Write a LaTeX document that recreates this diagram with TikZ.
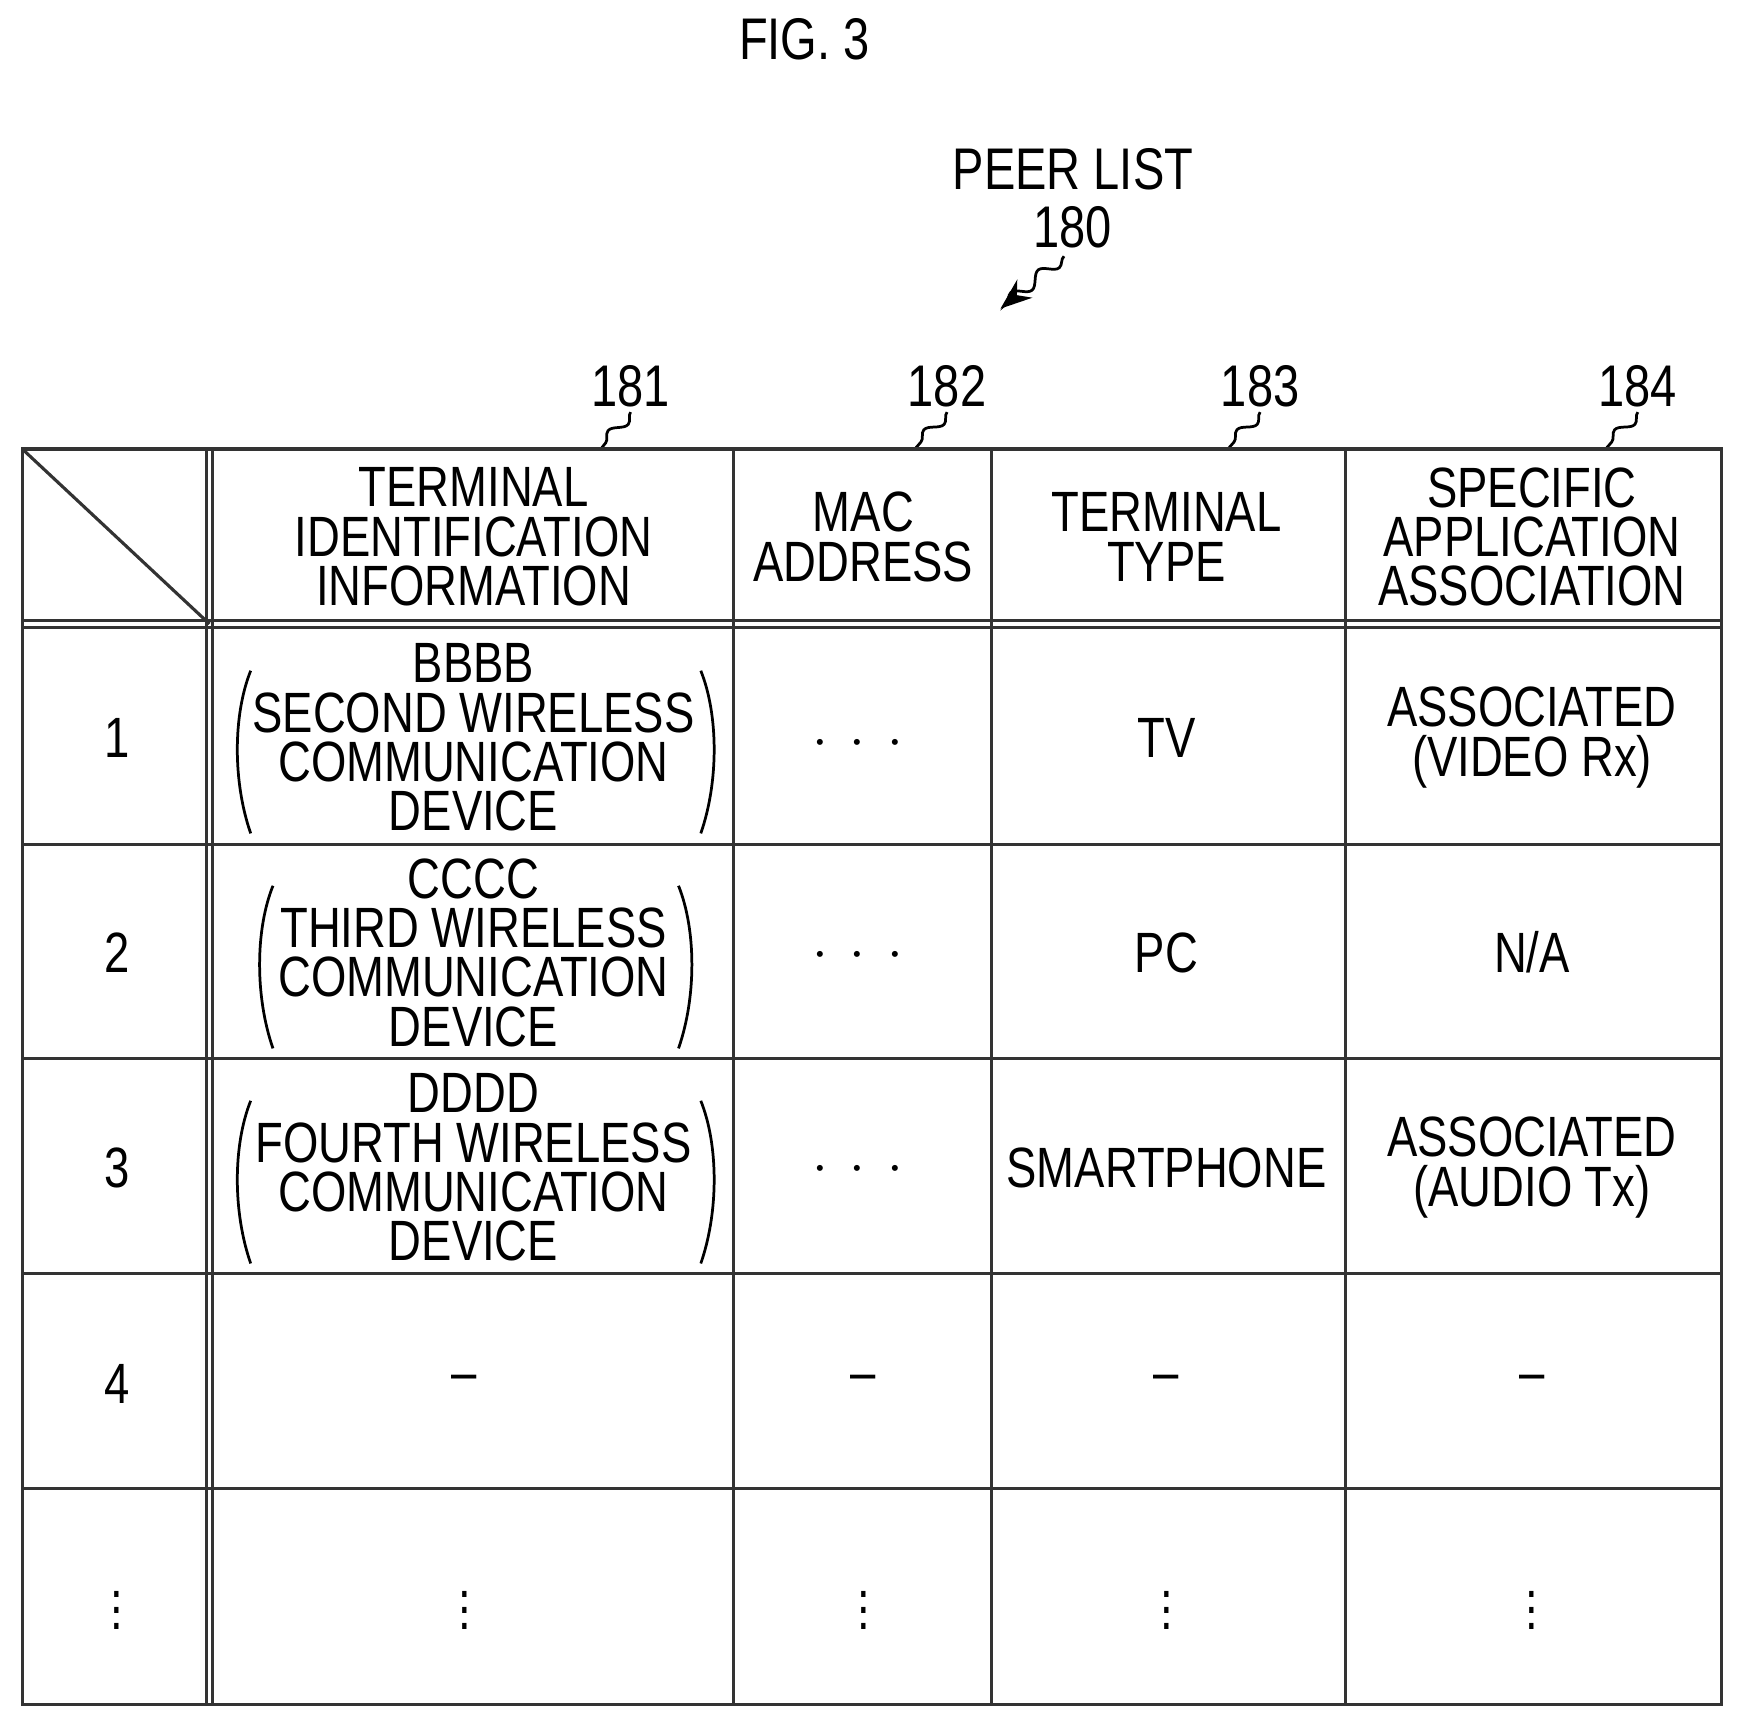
\documentclass[tikz,border=0pt]{standalone}
\usepackage{fontspec}
\setmainfont[FakeStretch=0.8]{Liberation Sans}
\usetikzlibrary{decorations.pathmorphing,arrows.meta}
\begin{document}
\begin{tikzpicture}[x=0.01cm,y=-0.01cm,
        cell/.style={align=center, font=\fontsize{14.5}{12.6}\selectfont, inner sep=0pt},
        refnum/.style={font=\fontsize{15}{15}\selectfont, inner sep=1pt},
        grid/.style={line width=0.8pt, black!80},
        leader/.style={line width=0.7pt, decorate, decoration={snake, amplitude=1.5pt, segment length=9pt}},
        paren/.style={line width=0.7pt}
    ]
        \useasboundingbox (0,0) rectangle (1568,1552);
        % Title and list label
        \node[refnum] (fig) at (722,35) {FIG. 3};
        \node[refnum, align=center] (peer) at (963,178) {PEER LIST\\180};
        \coordinate (peertip) at (898,277);
        \draw[leader, -{Stealth[length=8pt]}] (955,230) -- (peertip);
        
        % Column reference numbers
        \node[refnum] (n181) at (566,347) {181};
        \node[refnum] (n182) at (850,347) {182};
        \node[refnum] (n183) at (1131,347) {183};
        \node[refnum] (n184) at (1470,347) {184};
        \foreach \n/\x in {n181/540, n182/822, n183/1103, n184/1442}
            \draw[leader] (\n.south) -- (\x,402);
        
        % Table grid
        \draw[grid] (20,403) rectangle (1545,1530);
        \draw[grid] (185,403) -- (185,1530);
        \draw[grid] (191,403) -- (191,1530);
        \foreach \x in {658, 890, 1208}
            \draw[grid] (\x,403) -- (\x,1530);
        \draw[grid] (20,557) -- (1545,557);
        \draw[grid] (20,563) -- (1545,563);
        \foreach \y in {758, 950, 1143, 1336}
            \draw[grid] (20,\y) -- (1545,\y);
        \draw[grid] (20,403) -- (188,560);
        
        % Header row
        \node[cell] (h181) at (425,482) {TERMINAL\\IDENTIFICATION\\INFORMATION};
        \node[cell] (h182) at (775,482) {MAC\\ADDRESS};
        \node[cell] (h183) at (1047,482) {TERMINAL\\TYPE};
        \node[cell] (h184) at (1375,482) {SPECIFIC\\APPLICATION\\ASSOCIATION};
        
        % Row numbers
        \foreach \r/\y in {1/662, 2/855, 3/1048, 4/1242}
            \node[cell] (r\r) at (105,\y) {\r};
        
        % Data rows
        \node[cell] (id1) at (425,662) {BBBB\\SECOND WIRELESS\\COMMUNICATION\\DEVICE};
        \node[cell] (id2) at (425,855) {CCCC\\THIRD WIRELESS\\COMMUNICATION\\DEVICE};
        \node[cell] (id3) at (425,1048) {DDDD\\FOURTH WIRELESS\\COMMUNICATION\\DEVICE};
        \foreach \r/\y in {1/668, 2/858, 3/1050}
            \node[cell] (mac\r) at (770,\y) {\textbf{$\cdot\,\cdot\,\cdot$}};
        \node[cell] (type1) at (1047,662) {TV};
        \node[cell] (type2) at (1047,855) {PC};
        \node[cell] (type3) at (1047,1048) {SMARTPHONE};
        \node[cell] (app1) at (1375,662) {ASSOCIATED\\(VIDEO Rx)};
        \node[cell] (app2) at (1375,855) {N/A};
        \node[cell] (app3) at (1375,1048) {ASSOCIATED\\(AUDIO Tx)};
        
        % Tall parentheses
        \foreach \y/\l/\r in {662/213/641, 855/233/621, 1048/213/641} {
            \draw[paren] (\l+12,\y-60) .. controls (\l-4,\y-20) and (\l-4,\y+40) .. (\l+12,\y+86);
            \draw[paren] (\r-12,\y-60) .. controls (\r+4,\y-20) and (\r+4,\y+40) .. (\r-12,\y+86);
        }
        
        % Empty row and continuation row
        \foreach \x/\n in {417/a, 775/b, 1047/c, 1375/d} {
            \node[cell] (dash\n) at (\x,1242) {--};
            \node[cell] (dots\n) at (\x,1435) {$\vdots$};
        }
        \node[cell] (dotsr) at (105,1435) {$\vdots$};
    \end{tikzpicture}
\end{document}
